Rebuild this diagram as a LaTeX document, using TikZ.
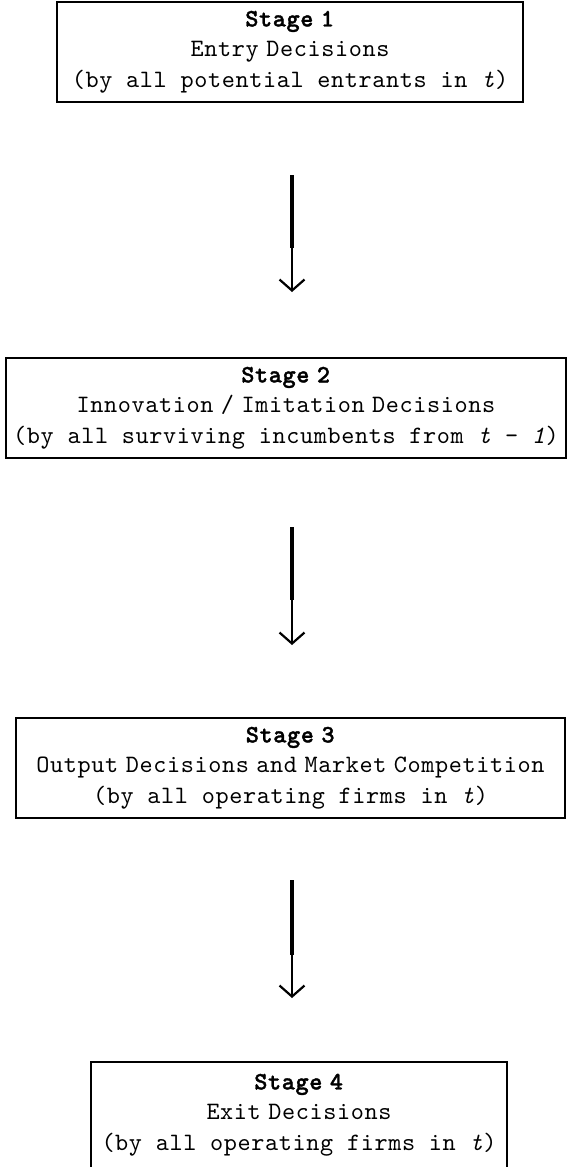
\documentclass[tikz,border=0pt]{standalone}
\usepackage{fontspec}
\setmonofont{lmmono10-regular.otf}[
  BoldFont=lmmonolt10-bold.otf,
  BoldFeatures={FakeBold=1.4},
  ItalicFont=lmmono10-italic.otf,
  LetterSpace=2.5]
\usetikzlibrary{arrows.meta}
% narrow word gap used in the heading lines
\newcommand{\narrowsp}{\hspace{0.3em}}
\begin{document}
\begin{tikzpicture}[x=1pt,y=-1pt,
  stagebox/.style={draw, line width=1.5pt, align=center, inner sep=0pt,
    font=\ttfamily\fontsize{25}{30.5}\selectfont, minimum height=100pt},
  shaftthick/.style={line width=3.6pt},
  shaftthin/.style={line width=2pt, -{Straight Barb[length=11pt,width=25pt,line width=2.2pt]}}]
\useasboundingbox (0,0) rectangle (567,1167);

% the four stages
\node[stagebox, minimum width=466pt] (s1) at (290,52)
  {\textbf{Stage\narrowsp 1}\\Entry\narrowsp Decisions\\(by all potential entrants in \textit{t})};
\node[stagebox, minimum width=560pt] (s2) at (286,408)
  {\textbf{Stage\narrowsp 2}\\Innovation\narrowsp/\narrowsp Imitation\narrowsp Decisions\\(by all surviving incumbents from \textit{t} - \textit{1})};
\node[stagebox, minimum width=549pt] (s3) at (290.5,768)
  {\textbf{Stage\narrowsp 3}\\Output\narrowsp Decisions\narrowsp and\narrowsp Market\narrowsp Competition\\(by all operating firms in \textit{t})};
\node[stagebox, minimum width=416pt, minimum height=106pt] (s4) at (299,1115)
  {\textbf{Stage\narrowsp 4}\\Exit\narrowsp Decisions\\(by all operating firms in \textit{t})};

% connectors: heavy upper shaft, lighter lower shaft with open head
\coordinate (a1) at (292,175); \coordinate (m1) at (292,248); \coordinate (b1) at (292,292);
\coordinate (a2) at (292,527); \coordinate (m2) at (292,600); \coordinate (b2) at (292,645);
\coordinate (a3) at (292,880); \coordinate (m3) at (292,955); \coordinate (b3) at (292,998);
\foreach \i in {1,2,3} {
  \draw[shaftthick] (a\i) -- (m\i);
  \draw[shaftthin] (m\i) -- (b\i);
}
\end{tikzpicture}
\end{document}
